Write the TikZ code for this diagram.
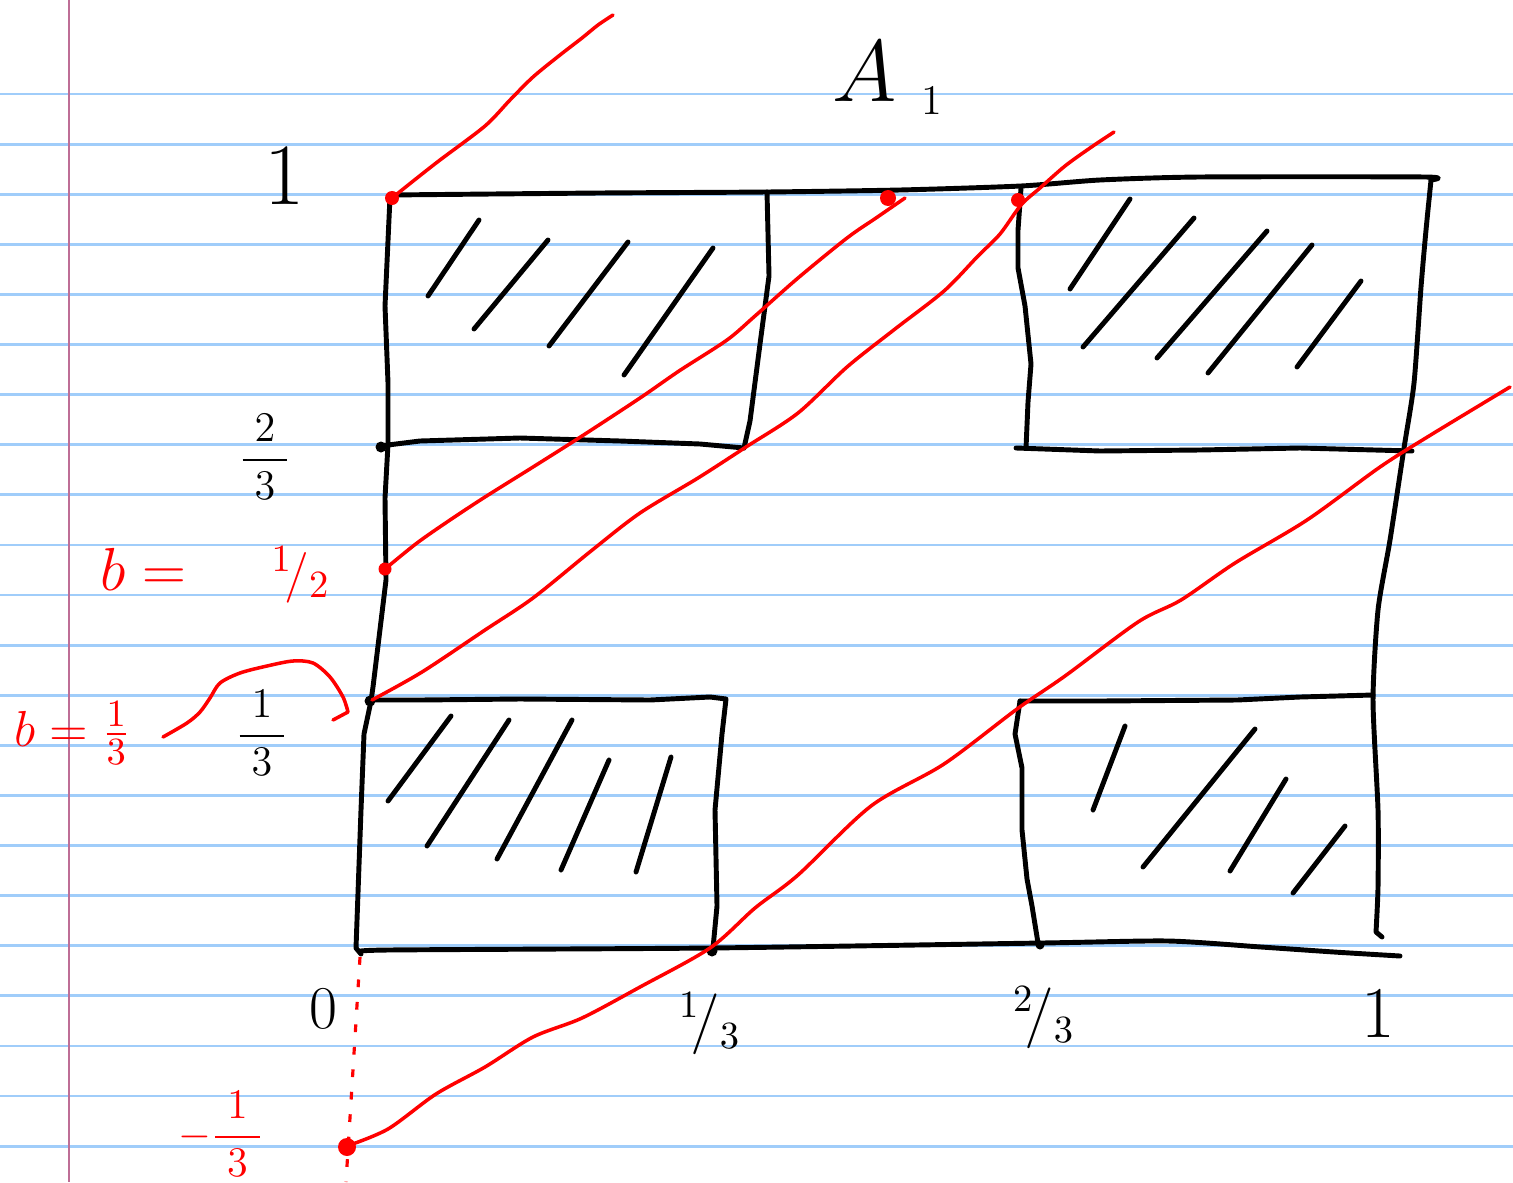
\documentclass[tikz,border=0pt]{standalone}
\usepackage{amsmath}
\usepackage{tikz}
\usepackage{xcolor}
\usetikzlibrary{arrows.meta, positioning}

\definecolor{paperblue}{RGB}{160,205,250}
\definecolor{marginpink}{RGB}{190,110,150}
\definecolor{inkred}{RGB}{255,0,0}

\newcommand{\wfrac}[2]{\displaystyle\frac{\hspace{0.12cm}#1\hspace{0.12cm}}{\hspace{0.12cm}#2\hspace{0.12cm}}}

\begin{document}
\begin{tikzpicture}[
    x=0.01cm, y=-0.01cm,
    ruled/.style={draw=paperblue, line width=0.8pt},
    margin/.style={draw=marginpink, line width=0.8pt},
    pen/.style={draw=black, line width=1.4pt, line cap=round, line join=round},
    redpen/.style={draw=inkred, line width=1pt, line cap=round, line join=round},
    reddot/.style={circle, fill=inkred, inner sep=0pt, minimum size=#1},
    reddot/.default=0.14cm,
    blackdot/.style={circle, fill=black, inner sep=0pt, minimum size=#1},
    blackdot/.default=0.11cm,
    lab/.style={inner sep=0pt, font=\fontsize{13}{15}\selectfont},
    redlab/.style={lab, text=inkred}
]
\useasboundingbox (0,0) rectangle (1513,1182);
\fill[white] (0,0) rectangle (1513,1182);

% lined paper
\foreach \k in {0,...,21}
  \draw[ruled] (0,{94+50.1*\k}) -- (1513,{94+50.1*\k});
\draw[margin] (69,0) -- (69,1182);

% unit square, hand drawn
\draw[pen] plot[smooth, tension=0.4] coordinates {(390,195) (600,193) (767,192) (900,190) (1021,186)
  (1100,180) (1200,177) (1425,177) (1431,180)};
\draw[pen] plot[smooth, tension=0.4] coordinates {(1431,180) (1426,230) (1421,287) (1414,383) (1404,448)
  (1390,540) (1378,610) (1373,700) (1378,810) (1378,887) (1376,932)} -- (1382,937);
\draw[pen] (390,197) -- (385,306) -- (388,383) -- (388,444) -- (385,498) -- (386,580)
  -- (373,687) -- (371,701) -- (364,734) -- (361,810) -- (356,948) -- (361,954);
\draw[pen] plot[smooth, tension=0.4] coordinates {(361,952) (388,950) (710,948) (1042,943) (1168,941)
  (1261,947) (1334,952) (1400,956)};

% the four shaded blocks
\draw[pen] (767,192) -- (769,276) -- (760,344) -- (750,421) -- (744,448);
\draw[pen] (380,446) -- (420,441) -- (520,438) -- (620,441) -- (700,444) -- (744,448);
\draw[pen] (1021,188) -- (1018,230) -- (1018,268) -- (1025,306) -- (1031,364) -- (1028,402) -- (1026,448);
\draw[pen] (1016,448) -- (1100,451) -- (1200,450) -- (1300,448) -- (1412,451);
\draw[pen] (371,700) -- (420,700) -- (520,699) -- (650,700) -- (710,697) -- (726,699)
  -- (722,734) -- (715,810) -- (717,906) -- (713,948);
\draw[pen] (1020,701) -- (1100,701) -- (1237,700) -- (1300,697) -- (1373,695);
\draw[pen] (1020,701) -- (1015,734) -- (1022,768) -- (1022,830) -- (1027,879) -- (1032,906) -- (1038,943);

% hatching
\foreach \xa/\ya/\xb/\yb in {479/220/428/296, 548/240/474/329, 628/242/549/346, 713/248/624/375,
    1130/199/1070/289, 1194/218/1083/347, 1267/231/1157/358, 1312/245/1208/373, 1361/281/1297/367,
    451/716/388/801, 509/720/427/846, 572/720/497/859, 609/760/561/870, 671/757/636/872,
    1125/726/1093/810, 1255/729/1143/867, 1286/779/1230/871, 1345/826/1293/893}
  \draw[pen] (\xa,\ya) -- (\xb,\yb);

% black points
\node[blackdot] (ptb) at (381,447) {};
\node[blackdot] (pta) at (370,701) {};
\node[blackdot] (ptc) at (712,951) {};
\node[blackdot=0.09cm] (ptd) at (1040,945) {};

% red points
\node[reddot] (topa) at (392,198) {};
\node[reddot=0.16cm] (topb) at (888,198) {};
\node[reddot] (topc) at (1018,200) {};
\node[reddot=0.13cm] (bhalf) at (385,569) {};
\node[reddot=0.18cm] (bneg) at (347,1147) {};

% red lines of slope one
\draw[redpen] plot[smooth] coordinates {(392,198) (417,178) (440,160) (485,126) (510,100) (533,77)
  (560,55) (582,38) (598,25) (613,15)};
\draw[redpen] plot[smooth] coordinates {(385,569) (417,543) (450,520) (485,497) (533,467) (582,436)
  (640,398) (679,371) (727,340) (755,316) (798,278) (847,238) (876,218) (905,198)};
\draw[redpen] plot[smooth] coordinates {(372,700) (422,672) (485,630) (533,598) (591,551) (640,513)
  (698,478) (746,447) (798,413) (847,367) (895,329) (944,291) (978,256) (1000,234) (1021,205)
  (1040,188) (1065,166) (1090,148) (1114,132)};
\draw[redpen] plot[smooth] coordinates {(347,1146) (388,1129) (436,1094) (485,1067) (533,1037)
  (582,1018) (640,987) (710,948) (755,908) (798,875) (871,806) (944,764) (1017,709) (1065,676)
  (1138,622) (1181,600) (1235,563) (1307,520) (1380,467) (1429,436) (1510,387)};
\draw[inkred, line width=0.9pt, dash pattern=on 2.2pt off 4.2pt] (360,957) -- (346,1182);

% axis labels
\node[lab, font=\fontsize{26}{28}\selectfont] (yone) at (285,176) {$1$};
\node[lab] (ytwo) at (265,457) {$\wfrac{2}{3}$};
\node[lab] (ythird) at (262,733) {$\wfrac{1}{3}$};
\node[lab, font=\fontsize{18}{20}\selectfont] (xzero) at (323,1009) {$0$};
\node[lab, font=\fontsize{16}{18}\selectfont] (xthird) at (710,1024) {${}^{1}\!/{}_{3}$};
\node[lab, font=\fontsize{16}{18}\selectfont] (xtwo) at (1044,1018) {${}^{2}\!/{}_{3}$};
\node[lab, font=\fontsize{22}{24}\selectfont] (xone) at (1378,1014) {$1$};
\node[lab, font=\fontsize{40}{44}\selectfont] (title) at (888,78)
  {$A\hspace{0.25cm}_{\mbox{\fontsize{12}{12}\selectfont 1}}$};

% red notes
\node[redlab, font=\fontsize{18}{20}\selectfont, anchor=west] (bhalflab) at (100,575)
  {$b=$\hspace{0.85cm}{\fontsize{15}{16}\selectfont${}^{1}\!/{}_{2}$}};
\node[redlab, font=\fontsize{15}{17}\selectfont, anchor=west] (bthird) at (14,733) {$b=\frac{1}{3}$};
\node[redlab] (bneglab) at (221,1134) {$-\wfrac{1}{3}$};
\coordinate (curvestart) at (163,737);
\draw[redpen] (curvestart) plot[smooth] coordinates {(163,737) (187,723) (200,712) (210,698)
  (220,683) (240,673) (267,666) (293,661) (313,663) (330,677) (343,697) (348,712)} -- (333,720);

\end{tikzpicture}
\end{document}
